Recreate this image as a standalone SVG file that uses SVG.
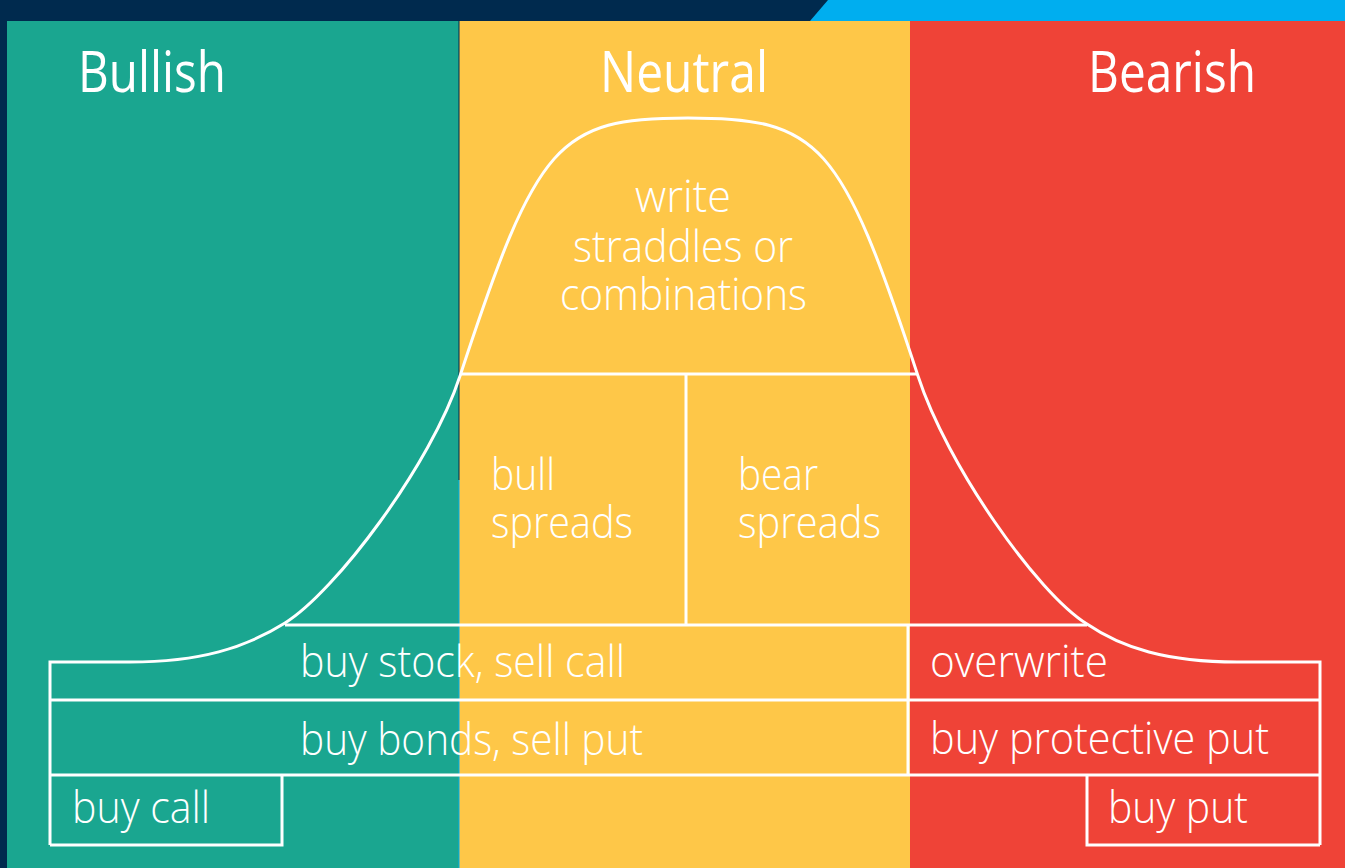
<svg xmlns="http://www.w3.org/2000/svg" width="1345" height="868" viewBox="0 0 1345 868">
<style>
.h{font-family:"Open Sans","Noto Sans",sans-serif;font-size:56px;font-weight:400;fill:#fff}
.t{font-family:"Open Sans","Noto Sans",sans-serif;font-size:45px;font-weight:300;fill:#fff}
.ln{fill:none;stroke:#fff;stroke-width:3;stroke-linejoin:miter}
</style>
<rect x="0" y="0" width="1345" height="868" fill="#002a4e"/>
<polygon points="828,0 1345,0 1345,21 810,21" fill="#00aeef"/>
<g id="bullish">
<rect x="7" y="21" width="452" height="847" fill="#1aa690"/>
<text class="h" x="78" y="92" textLength="148" lengthAdjust="spacingAndGlyphs">Bullish</text>
</g>
<g id="neutral">
<rect x="459" y="21" width="451" height="847" fill="#fec748"/>
<text class="h" x="600" y="92" textLength="168" lengthAdjust="spacingAndGlyphs">Neutral</text>
</g>
<g id="bearish">
<rect x="910" y="21" width="435" height="847" fill="#ef4337"/>
<text class="h" x="1088" y="92" textLength="168" lengthAdjust="spacingAndGlyphs">Bearish</text>
</g>
<line x1="459" y1="21" x2="459" y2="480" stroke="#002a4e" stroke-width="1"/>
<line x1="459" y1="480" x2="459" y2="868" stroke="#00aeef" stroke-width="1"/>
<g id="connectors">
<path class="ln" d="M50,845 V662 H130 C200,662 245,648 285,623 C335,592 431,465 460,376 C537,141 558,118 688,118 C820,118 841,141 918,376 C947,465 1037,593 1087,624 C1122,648 1167,662 1237,662 H1320 V845"/>
<path class="ln" d="M460,374 H918 M686,374 V625 M285,625 H1087 M908,625 V775 M50,700 H1320 M50,775 H1320 M50,845 H282 V775 M1087,775 V845 H1320"/>
</g>
<g id="write-straddles">
<text class="t" x="635" y="212" textLength="96" lengthAdjust="spacingAndGlyphs">write</text>
<text class="t" x="573" y="262" textLength="220" lengthAdjust="spacingAndGlyphs">straddles or</text>
<text class="t" x="560" y="310" textLength="247" lengthAdjust="spacingAndGlyphs">combinations</text>
</g>
<g id="bull-spreads">
<text class="t" x="491" y="490" textLength="64" lengthAdjust="spacingAndGlyphs">bull</text>
<text class="t" x="491" y="538" textLength="142" lengthAdjust="spacingAndGlyphs">spreads</text>
</g>
<g id="bear-spreads">
<text class="t" x="738" y="490" textLength="80" lengthAdjust="spacingAndGlyphs">bear</text>
<text class="t" x="738" y="538" textLength="143" lengthAdjust="spacingAndGlyphs">spreads</text>
</g>
<g id="buy-stock-sell-call">
<text class="t" x="300" y="677" textLength="325" lengthAdjust="spacingAndGlyphs">buy stock, sell call</text>
</g>
<g id="buy-bonds-sell-put">
<text class="t" x="300" y="755" textLength="343" lengthAdjust="spacingAndGlyphs">buy bonds, sell put</text>
</g>
<g id="buy-call">
<text class="t" x="72" y="823" textLength="138" lengthAdjust="spacingAndGlyphs">buy call</text>
</g>
<g id="overwrite">
<text class="t" x="930" y="677" textLength="178" lengthAdjust="spacingAndGlyphs">overwrite</text>
</g>
<g id="buy-protective-put">
<text class="t" x="930" y="754" textLength="339" lengthAdjust="spacingAndGlyphs">buy protective put</text>
</g>
<g id="buy-put">
<text class="t" x="1108" y="823" textLength="140" lengthAdjust="spacingAndGlyphs">buy put</text>
</g>
</svg>
